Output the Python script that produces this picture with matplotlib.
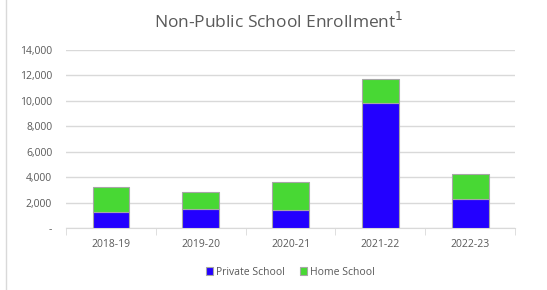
import matplotlib.pyplot as plt
from matplotlib.lines import Line2D

# data
years = ['2018-19', '2019-20', '2020-21', '2021-22', '2022-23']
private_school = [1280, 1520, 1420, 9800, 2250]
home_school = [1970, 1330, 2170, 1940, 1970]

blue = '#2300FF'
green = '#48D834'
grid_c = '#D9D9D9'
text_c = '#595959'

plt.rcParams['font.family'] = ['Open Sans', 'DejaVu Sans']

fig = plt.figure(figsize=(5.47, 2.9), dpi=100)
ax = fig.add_axes([0.1207, 0.2138, 0.8208, 0.6138])

x = range(len(years))
ax.bar(x, private_school, width=0.41, color=blue, edgecolor='#A6A6A6', linewidth=0.8,
       label='Private School', zorder=3)
ax.bar(x, home_school, width=0.41, bottom=private_school, color=green, edgecolor='#A6A6A6',
       linewidth=0.8, label='Home School', zorder=3)

ax.set_xlim(-0.5, len(years) - 0.5)
ax.set_ylim(0, 14000)
ax.set_yticks(range(0, 14001, 2000))
ax.set_yticklabels(['-'] + [f'{v:,}' for v in range(2000, 14001, 2000)])
ax.set_xticks(list(x))
ax.set_xticklabels(years)
ax.set_xticks([i - 0.5 for i in range(len(years) + 1)], minor=True)

ax.grid(axis='y', color=grid_c, linewidth=1, zorder=0)
for s in ['top', 'right', 'left']:
    ax.spines[s].set_visible(False)
ax.spines['bottom'].set_color(grid_c)
ax.tick_params(axis='y', length=0, labelsize=7.5, labelcolor=text_c, pad=10)
ax.tick_params(axis='x', which='major', length=0, labelsize=7.5, labelcolor=text_c, pad=8)
ax.tick_params(axis='x', which='minor', length=5, color=grid_c)

fig.text(0.51, 0.925, 'Non-Public School Enrollment$^1$', ha='center', va='center',
         fontsize=12.5, color=text_c)

ax.legend(loc='upper center', bbox_to_anchor=(0.5, -0.165), ncol=2, frameon=False,
          fontsize=7.5, labelcolor=text_c, handlelength=0.7, handleheight=0.7,
          handletextpad=0.3, columnspacing=1.4)

# chart frame line on the left
fig.add_artist(Line2D([0.011, 0.011], [0, 1], color=grid_c, linewidth=1))

plt.savefig('out.png', dpi=100)
